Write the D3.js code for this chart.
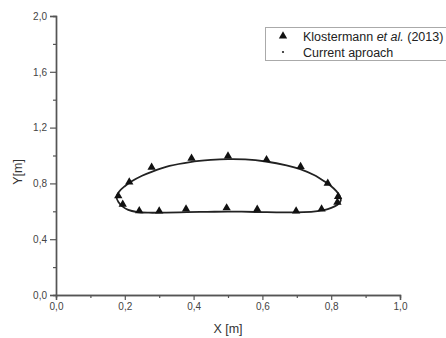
<!DOCTYPE html>
<html><head><meta charset="utf-8">
<script src="https://cdn.jsdelivr.net/npm/d3@7"></script>
<style>body{margin:0;background:#fff}svg{display:block}text{font-family:"Liberation Sans",Arial,sans-serif}</style>
</head><body><svg id="c" width="446" height="338"></svg>
<script>
// Reference data: Klostermann et al. (2013)
const refX = [0.181,0.213,0.278,0.394,0.500,0.612,0.711,0.790,0.820,0.818,0.772,0.698,0.585,0.496,0.378,0.300,0.242,0.194];
const refY = [0.710,0.810,0.915,0.980,0.996,0.970,0.920,0.800,0.705,0.665,0.616,0.602,0.614,0.624,0.616,0.602,0.604,0.650];
// Current approach (closed contour)
const curX = [0.176,0.185,0.200,0.220,0.250,0.280,0.330,0.390,0.450,0.500,0.550,0.610,0.670,0.710,0.750,0.780,0.800,0.815,0.825,0.828,0.822,0.810,0.790,0.760,0.720,0.660,0.600,0.540,0.500,0.440,0.380,0.320,0.270,0.235,0.210,0.193,0.182];
const curY = [0.700,0.745,0.780,0.815,0.855,0.885,0.925,0.953,0.968,0.974,0.972,0.957,0.930,0.903,0.860,0.815,0.780,0.745,0.710,0.680,0.655,0.635,0.615,0.602,0.594,0.592,0.594,0.597,0.598,0.596,0.594,0.591,0.590,0.595,0.610,0.635,0.665];
const xTicks = [0,0.2,0.4,0.6,0.8,1.0];
const yTicks = [0,0.4,0.8,1.2,1.6,2.0];
const legendLabels = ["Klostermann ", "Current aproach"];

const svg = d3.select("#c");
const x = d3.scaleLinear().domain([0,1]).range([56,400]);
const y = d3.scaleLinear().domain([0,2]).range([295,16]);
const loc = d3.formatLocale({decimal:",",thousands:".",grouping:[3],currency:["",""]});
const fmt = loc.format(".1f");
const axisCol = "#555";

// minor ticks
const xMinor = d3.range(0.1,1,0.2);
const yMinor = d3.range(0.2,2,0.4);
const gx = svg.append("g").attr("transform","translate(0,295)")
  .call(d3.axisBottom(x).tickValues(xTicks).tickFormat(fmt).tickSize(5).tickPadding(3));
const gxm = svg.append("g").attr("transform","translate(0,295)")
  .call(d3.axisBottom(x).tickValues(xMinor).tickFormat("").tickSize(3));
const gy = svg.append("g").attr("transform","translate(56,0)")
  .call(d3.axisLeft(y).tickValues(yTicks).tickFormat(fmt).tickSize(6).tickPadding(3));
const gym = svg.append("g").attr("transform","translate(56,0)")
  .call(d3.axisLeft(y).tickValues(yMinor).tickFormat("").tickSize(3));
[gx,gxm,gy,gym].forEach(g=>{
  g.selectAll(".domain").attr("stroke",axisCol).attr("stroke-width",1.4);
  g.selectAll(".tick line").attr("stroke",axisCol).attr("stroke-width",1.2);
  g.selectAll(".tick text").attr("fill","#444").attr("font-size",10);
});

// axis titles
svg.append("text").attr("x",228).attr("y",333).attr("text-anchor","middle")
  .attr("font-size",12.5).attr("fill","#333").text("X [m]");
svg.append("text").attr("transform","translate(22,172) rotate(-90)").attr("text-anchor","middle")
  .attr("font-size",12.5).attr("fill","#333").text("Y[m]");

// curve
const pts = curX.map((d,i)=>[x(d),y(curY[i])]);
svg.append("path").attr("d",d3.line().curve(d3.curveCatmullRomClosed)(pts))
  .attr("fill","none").attr("stroke","#222").attr("stroke-width",1.8);

// triangles
const tri = d3.symbol().type(d3.symbolTriangle).size(30);
svg.selectAll("path.ref").data(refX).join("path").attr("class","ref")
  .attr("d",tri).attr("fill","#111")
  .attr("transform",(d,i)=>`translate(${x(d)},${y(refY[i])})`);

// legend
svg.append("rect").attr("x",265.5).attr("y",27.5).attr("width",200).attr("height",33)
  .attr("fill","#fff").attr("stroke","#aaa").attr("stroke-width",1);
svg.append("path").attr("d",tri).attr("fill","#111").attr("transform","translate(283,36)");
svg.append("circle").attr("cx",283).attr("cy",52).attr("r",1.1).attr("fill","#222");
const t1 = svg.append("text").attr("x",303).attr("y",40.5).attr("font-size",12.5).attr("fill","#222");
t1.append("tspan").text(legendLabels[0]);
t1.append("tspan").attr("font-style","italic").text("et al.");
t1.append("tspan").text(" (2013)");
svg.append("text").attr("x",303).attr("y",56.5).attr("font-size",12.5).attr("fill","#222").text(legendLabels[1]);
</script></body></html>
